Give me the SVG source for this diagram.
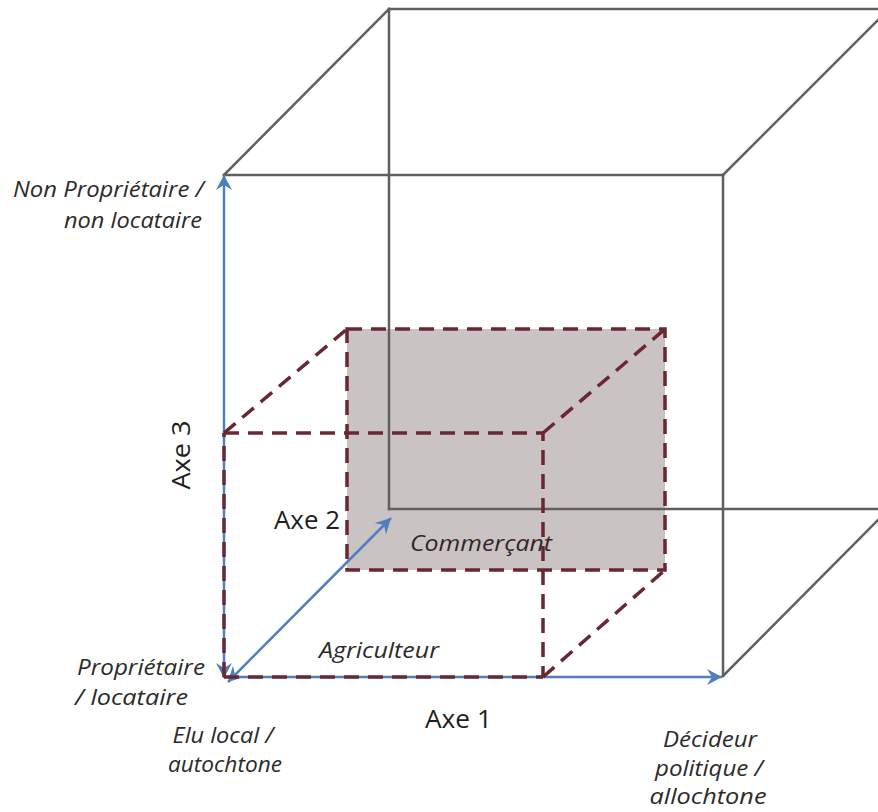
<svg xmlns="http://www.w3.org/2000/svg" width="878" height="812" viewBox="0 0 878 812">
  <defs>
    <marker id="arr" viewBox="-15 -9 17 18" refX="0" refY="0" markerWidth="17" markerHeight="18" markerUnits="userSpaceOnUse" orient="auto-start-reverse">
      <path d="M0,0 L-15,-8 L-10,0 L-15,8 Z" fill="#4f7fbf"/>
    </marker>
    <style>
      .cube { stroke: #5f5f5f; stroke-width: 2.5; fill: none; stroke-linecap: square; }
      .axis { stroke: #4f7fbf; stroke-width: 2.5; fill: none; }
      .dash { stroke: #6b2731; stroke-width: 3.5; fill: none; stroke-dasharray: 15 9; }
      .lbl { font-family: "Open Sans", "Liberation Sans", sans-serif; font-style: italic; font-size: 21px; fill: #2b2b2b; }
      .ax { font-family: "Open Sans", "Liberation Sans", sans-serif; font-size: 25px; fill: #1e1e1e; }
    </style>
  </defs>
  <rect width="878" height="812" fill="#ffffff"/>

  <g id="small-cube-back-fill">
    <rect x="347" y="329" width="318" height="241" fill="#c9c3c3"/>
  </g>

  <g id="big-cube">
    <line class="cube" x1="224" y1="175" x2="723" y2="175"/>
    <line class="cube" x1="723" y1="175" x2="723" y2="676"/>
    <line class="cube" x1="224" y1="175" x2="389" y2="9"/>
    <line class="cube" x1="389" y1="9" x2="890" y2="9"/>
    <line class="cube" x1="723" y1="175" x2="889" y2="9"/>
    <line class="cube" x1="389" y1="9" x2="389" y2="509"/>
    <line class="cube" x1="389" y1="509" x2="890" y2="509"/>
    <line class="cube" x1="723" y1="676" x2="889" y2="509"/>
  </g>

  <g id="connectors">
    <line class="axis" x1="224" y1="678" x2="224" y2="175" marker-start="url(#arr)" marker-end="url(#arr)"/>
    <line class="axis" x1="228" y1="677" x2="722" y2="677" marker-end="url(#arr)"/>
    <line class="axis" x1="228" y1="682" x2="391" y2="518" marker-start="url(#arr)" marker-end="url(#arr)"/>
  </g>

  <g id="small-cube">
    <path class="dash" d="M224,433 L543,433 L543,677 M224,677 L224,433"/>
    <path class="dash" d="M224,677 L543,677"/>
    <rect class="dash" x="347" y="329" width="318" height="241"/>
    <line class="dash" x1="224" y1="433" x2="347" y2="329"/>
    <line class="dash" x1="543" y1="433" x2="665" y2="329"/>
    <line class="dash" x1="543" y1="677" x2="665" y2="570"/>
  </g>

  <g id="label-non-proprietaire">
    <text class="lbl" x="204" y="197" text-anchor="end" textLength="191" lengthAdjust="spacingAndGlyphs">Non Propriétaire /</text>
    <text class="lbl" x="202" y="228" text-anchor="end" textLength="138" lengthAdjust="spacingAndGlyphs">non locataire</text>
  </g>
  <g id="label-axe3">
    <text class="ax" transform="translate(190,455) rotate(-90)" x="0" y="0" text-anchor="middle" textLength="69" lengthAdjust="spacingAndGlyphs">Axe 3</text>
  </g>
  <g id="label-axe2">
    <text class="ax" x="274" y="529" textLength="66" lengthAdjust="spacingAndGlyphs">Axe 2</text>
  </g>
  <g id="label-commercant">
    <text class="lbl" x="410" y="551" textLength="142" lengthAdjust="spacingAndGlyphs" style="fill:#332626">Commerçant</text>
  </g>
  <g id="label-agriculteur">
    <text class="lbl" x="319" y="658" textLength="120" lengthAdjust="spacingAndGlyphs">Agriculteur</text>
  </g>
  <g id="label-proprietaire">
    <text class="lbl" x="77" y="675" textLength="128" lengthAdjust="spacingAndGlyphs">Propriétaire</text>
    <text class="lbl" x="75" y="705" textLength="113" lengthAdjust="spacingAndGlyphs">/ locataire</text>
  </g>
  <g id="label-axe1">
    <text class="ax" x="425" y="728" textLength="67" lengthAdjust="spacingAndGlyphs">Axe 1</text>
  </g>
  <g id="label-elu-local">
    <text class="lbl" x="223" y="743" text-anchor="middle" textLength="101" lengthAdjust="spacingAndGlyphs">Elu local /</text>
    <text class="lbl" x="225" y="772" text-anchor="middle" textLength="114" lengthAdjust="spacingAndGlyphs">autochtone</text>
  </g>
  <g id="label-decideur">
    <text class="lbl" x="710" y="747" text-anchor="middle" textLength="94" lengthAdjust="spacingAndGlyphs">Décideur</text>
    <text class="lbl" x="709" y="776" text-anchor="middle" textLength="108" lengthAdjust="spacingAndGlyphs">politique /</text>
    <text class="lbl" x="708" y="804" text-anchor="middle" textLength="117" lengthAdjust="spacingAndGlyphs">allochtone</text>
  </g>
</svg>
